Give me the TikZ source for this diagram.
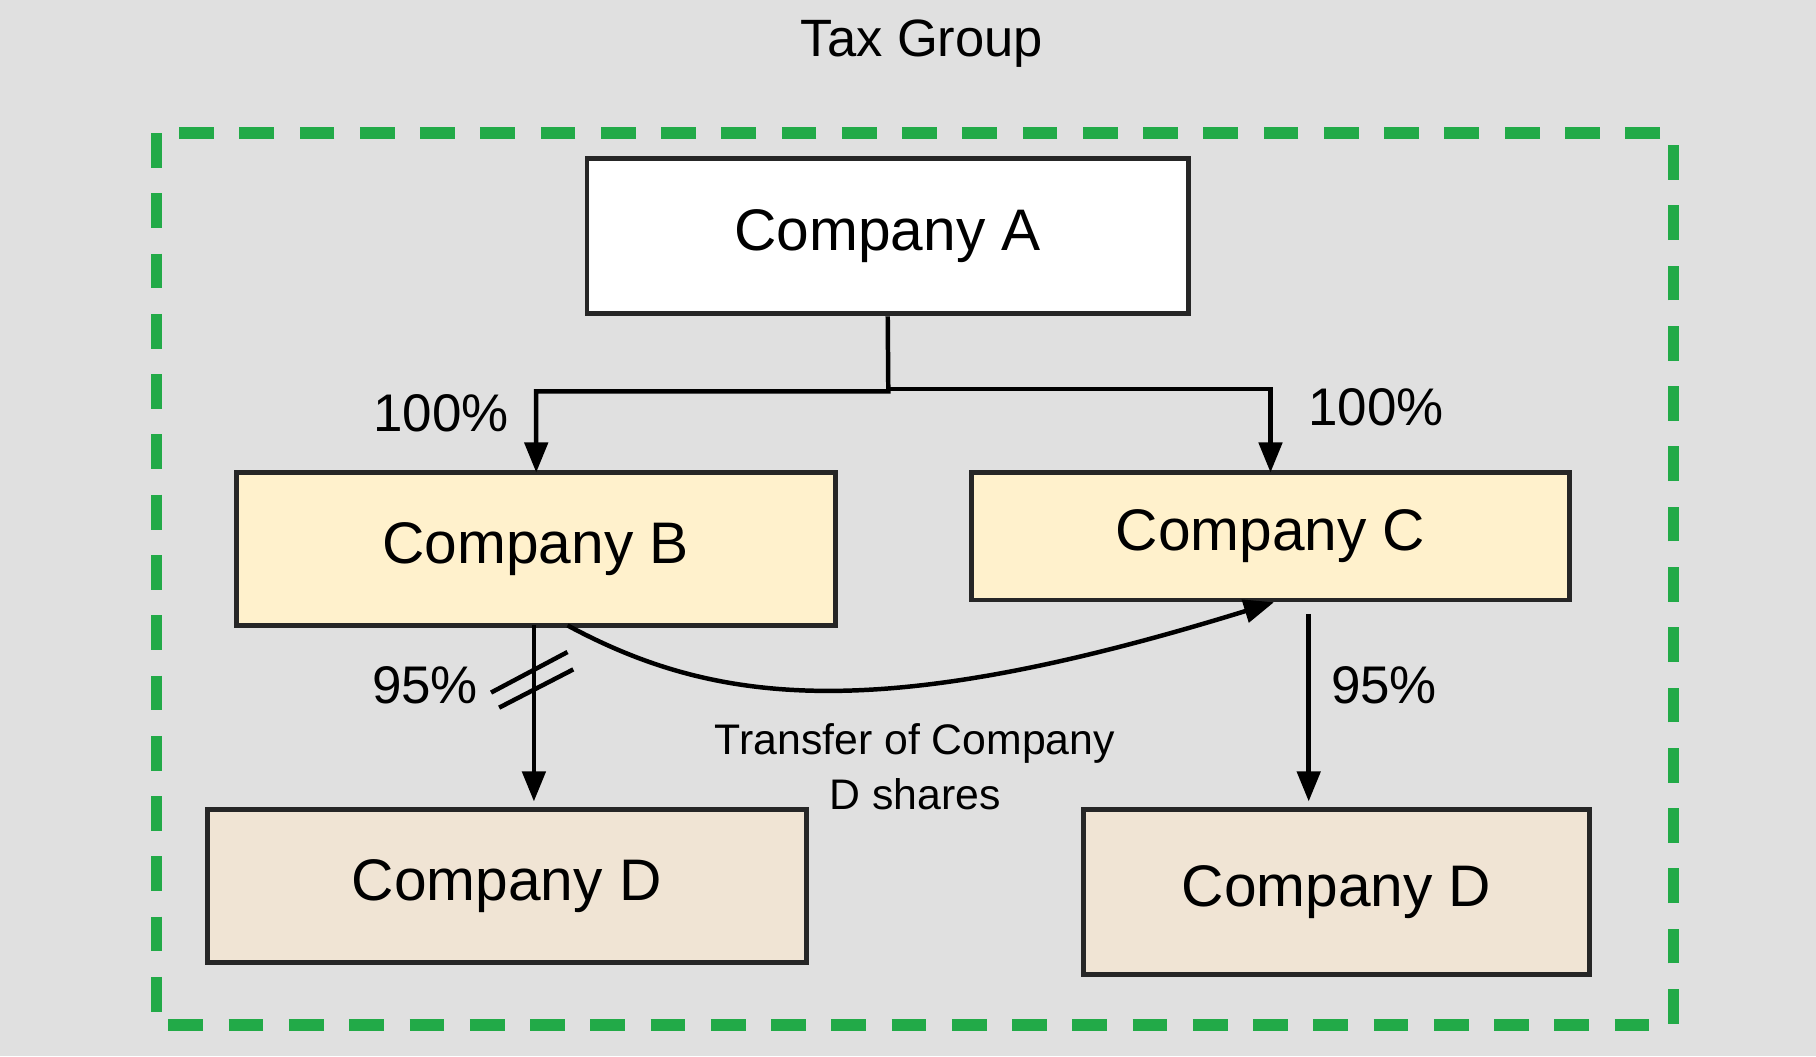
\documentclass[tikz,border=0pt]{standalone}
\usepackage{fontspec}
\setmainfont{Liberation Sans}
\usetikzlibrary{arrows.meta}
\definecolor{bg}{RGB}{224,224,224}
\definecolor{grn}{RGB}{34,170,72}
\definecolor{yel}{RGB}{255,241,204}
\definecolor{tan}{RGB}{240,228,212}
\tikzset{
 co/.style={draw=black!85,line width=1.2pt,inner sep=0pt,font=\fontsize{14.4}{17}\selectfont},
 arr/.style={line width=1.1pt,-{Triangle[length=0.26cm,width=0.2cm]}},
 lab/.style={font=\fontsize{13}{15}\selectfont},
}
\begin{document}
\begin{tikzpicture}[x=0.01cm,y=-0.01cm]
\fill[bg] (0,0) rectangle (1568,912);
\useasboundingbox (0,0) rectangle (1568,912);
\node[font=\fontsize{12.9}{15}\selectfont] (title) at (796,38) {Tax Group};
\draw[grn,line width=2.8pt,dash pattern=on 0.3cm off 0.22cm] (135,115) rectangle (1445,885);
\node[co,fill=white,minimum width=5.19cm,minimum height=1.34cm] (A) at (766.5,204) {Company A};
\node[co,fill=yel,minimum width=5.17cm,minimum height=1.32cm] (B) at (462.5,474) {Company B};
\node[co,fill=yel,minimum width=5.16cm,minimum height=1.10cm] (C) at (1097,463) {Company C};
\node[co,fill=tan,minimum width=5.17cm,minimum height=1.32cm] (D1) at (437.5,765) {Company D};
\node[co,fill=tan,minimum width=4.36cm,minimum height=1.42cm] (D2) at (1154,770) {Company D};
\coordinate (j) at (767,338);
\draw[arr] (A.south) -- (j) -- (463,338) -- (463,408);
\draw[arr] (767,336) -- (1097,336) -- (1097,408);
\draw[arr] (461,540) -- (461,692);
\draw[line width=1.1pt] (424,598) -- (490,563) (431,611) -- (495,578);
\draw[arr] (1130,530) -- (1130,692);
\draw[arr] (490,540) .. controls (620,610) and (760,625) .. (1100,520);
\node[lab] (l1) at (381,357) {100\%};
\node[lab] (l2) at (1188,352) {100\%};
\node[lab] (l3) at (367,592) {95\%};
\node[lab] (l4) at (1195,592) {95\%};
\node[align=center,font=\fontsize{10.5}{13.5}\selectfont] (t) at (790,662) {Transfer of Company\\D shares};
\end{tikzpicture}
\end{document}
